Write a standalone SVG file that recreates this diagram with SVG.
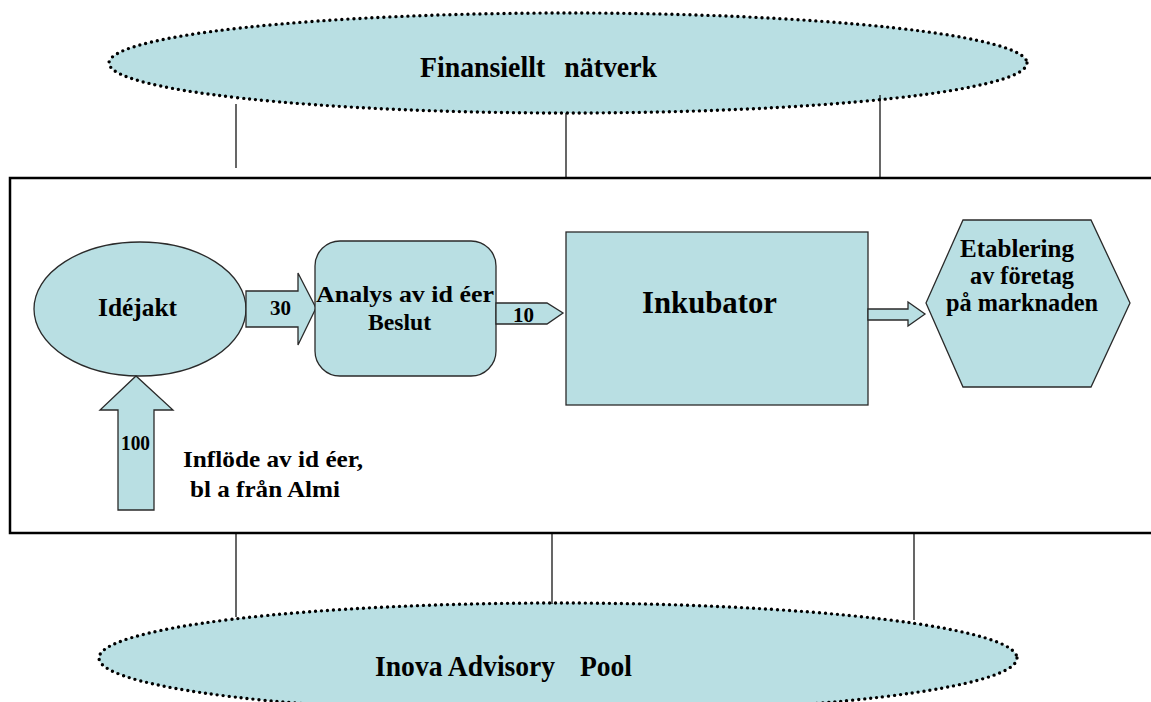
<svg xmlns="http://www.w3.org/2000/svg" width="1151" height="702" viewBox="0 0 1151 702">
<style>
.shape{fill:#B9DFE3;stroke:#2a2a2a;stroke-width:1.3}
.dotted{fill:#B9DFE3;stroke:#000;stroke-width:3.4;stroke-dasharray:0 6;stroke-linecap:round}
.line{stroke:#000;stroke-width:1.2;fill:none}
.t{font-family:"Liberation Serif","Times New Roman",serif;font-weight:bold;fill:#000}
</style>
<rect width="1151" height="702" fill="#fff"/>
<g id="finansiellt-natverk">
<ellipse class="dotted" cx="568" cy="63" rx="459" ry="50"/>
<text class="t" x="420" y="77" font-size="29" textLength="237" lengthAdjust="spacingAndGlyphs">Finansiellt<tspan dx="20">nätverk</tspan></text>
</g>
<g id="inova-advisory-pool">
<ellipse class="dotted" cx="558" cy="658" rx="459" ry="55"/>
<text class="t" x="375" y="676" font-size="29" textLength="257" lengthAdjust="spacingAndGlyphs">Inova Advisory<tspan dx="26">Pool</tspan></text>
</g>
<g id="connectors">
<line class="line" x1="236" y1="104" x2="236" y2="168"/>
<line class="line" x1="566" y1="113" x2="566" y2="178"/>
<line class="line" x1="880" y1="95" x2="880" y2="178"/>
<line class="line" x1="236" y1="533" x2="236" y2="617"/>
<line class="line" x1="552" y1="533" x2="552" y2="604"/>
<line class="line" x1="914" y1="533" x2="914" y2="620"/>
</g>
<g id="main-frame">
<rect x="10" y="178" width="1150" height="355" fill="none" stroke="#000" stroke-width="2.5"/>
</g>
<g id="idejakt">
<ellipse class="shape" cx="140" cy="309" rx="106" ry="67"/>
<text class="t" x="98" y="316" font-size="26" textLength="79" lengthAdjust="spacingAndGlyphs">Idéjakt</text>
</g>
<g id="arrow-30">
<polygon class="shape" points="246,291 298,291 298,273 316,308 298,345 298,327 246,327"/>
<text class="t" x="270" y="315" font-size="21">30</text>
</g>
<g id="analys">
<rect class="shape" x="315" y="241" width="181" height="135" rx="25"/>
<text class="t" x="316" y="302" font-size="24" textLength="178" lengthAdjust="spacingAndGlyphs">Analys av id  éer</text>
<text class="t" x="368" y="330" font-size="24" textLength="63" lengthAdjust="spacingAndGlyphs">Beslut</text>
</g>
<g id="arrow-10">
<polygon class="shape" points="496,303 547,303 563,313 547,324 496,324"/>
<text class="t" x="513" y="322" font-size="21">10</text>
</g>
<g id="inkubator">
<rect class="shape" x="566" y="232" width="302" height="173"/>
<text class="t" x="642" y="313" font-size="32" textLength="135" lengthAdjust="spacingAndGlyphs">Inkubator</text>
</g>
<g id="arrow-out">
<polygon class="shape" points="868,309 908,309 908,302 925,314 908,326 908,320 868,320"/>
</g>
<g id="etablering">
<polygon class="shape" points="926,303 963,220 1091,220 1130,303 1091,387 963,387"/>
<text class="t" x="960" y="257" font-size="25" textLength="114" lengthAdjust="spacingAndGlyphs">Etablering</text>
<text class="t" x="970" y="284" font-size="25" textLength="104" lengthAdjust="spacingAndGlyphs">av företag</text>
<text class="t" x="946" y="311" font-size="25" textLength="152" lengthAdjust="spacingAndGlyphs">på marknaden</text>
</g>
<g id="arrow-100">
<polygon class="shape" points="118,510 154,510 154,410 173,410 136,376 100,410 118,410"/>
<text class="t" x="121" y="450" font-size="20" textLength="29" lengthAdjust="spacingAndGlyphs">100</text>
</g>
<g id="inflode">
<text class="t" x="183" y="467" font-size="24" textLength="180" lengthAdjust="spacingAndGlyphs">Inflöde av id éer,</text>
<text class="t" x="190" y="497" font-size="24" textLength="150" lengthAdjust="spacingAndGlyphs">bl a från Almi</text>
</g>
</svg>
